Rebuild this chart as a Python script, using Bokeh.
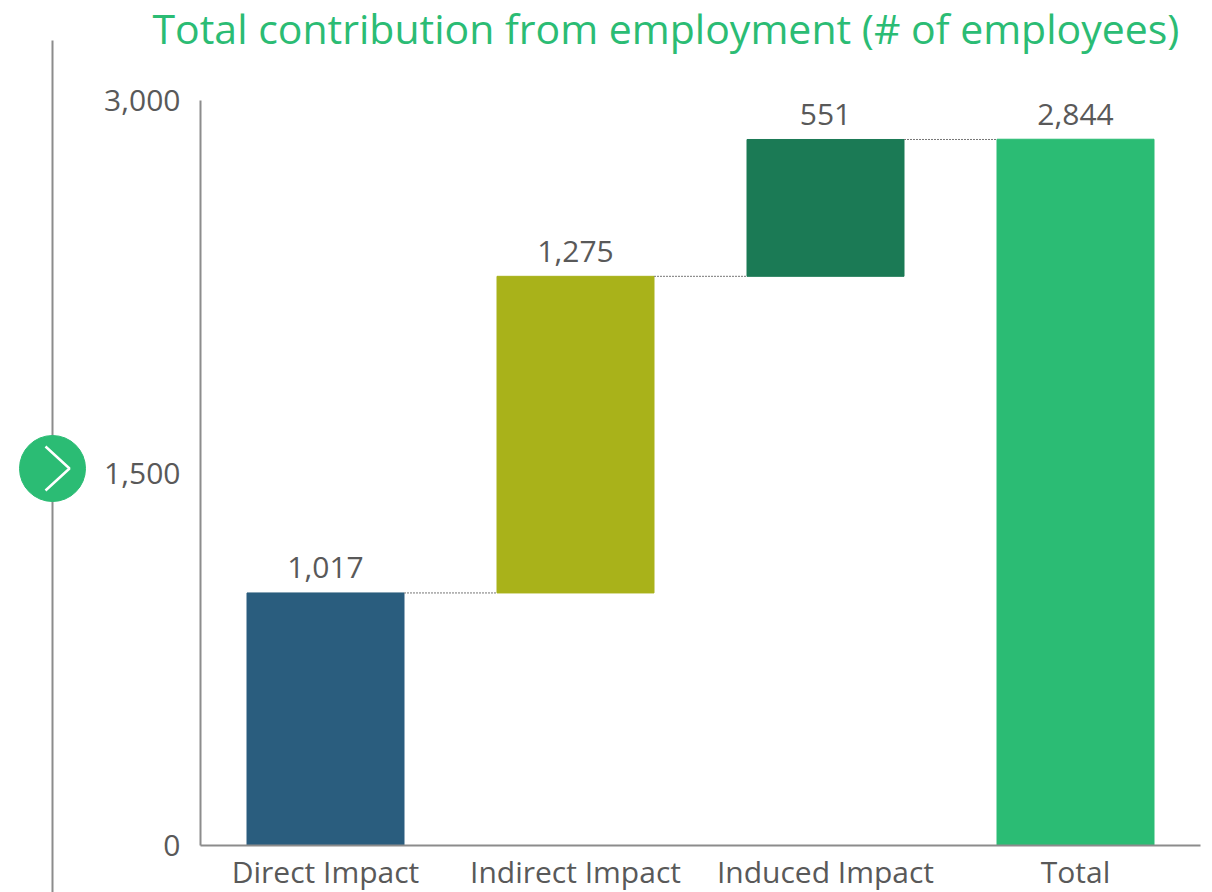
from bokeh.embed import file_html
from bokeh.resources import INLINE
from bokeh.plotting import figure
from bokeh.layouts import row, column
from bokeh.models import Range1d, FixedTicker, ColumnDataSource
from bokeh.core.properties import value

categories = ["Direct Impact", "Indirect Impact", "Induced Impact", "Total"]
bottoms = [0, 1017, 2292, 0]
tops = [1017, 2292, 2843, 2844]
labels = ["1,017", "1,275", "551", "2,844"]
colors = ["#2A5D7E", "#A9B21A", "#1B7A55", "#2BBC74"]
y_ticks = [0, 1500, 3000]
y_tick_labels = {0: "0", 1500: "1,500", 3000: "3,000"}
title_text = "Total contribution from employment (# of employees)"

FONT = "Open Sans"
GREEN = "#2BBC74"
GREY = "#8C8C8C"
TXT = "#595959"
BW = 0.628
LEFT_W = 100
TOP_H = 70
TOTAL_W = 1204
FULL_H = 892


def deco(width, height, x0, x1, y0, y1):
    f = figure(width=width, height=height, output_backend="svg", toolbar_location=None,
               x_range=Range1d(x0, x1), y_range=Range1d(y1, y0), min_border=0,
               outline_line_color=None, x_axis_location=None, y_axis_location=None)
    f.grid.visible = False
    f.frame_align = False
    return f


side = deco(LEFT_W, FULL_H, 0, LEFT_W, 0, FULL_H)
side.segment(x0=[52], x1=[52], y0=[40], y1=[FULL_H], line_color=GREY, line_width=2)
side.scatter(x=[52], y=[468], size=66, marker="circle", color=GREEN)
side.line(x=[45, 69, 45], y=[446, 468, 490], line_color="white", line_width=2.5)

head = deco(TOTAL_W - LEFT_W, TOP_H, LEFT_W, TOTAL_W, 0, TOP_H)
head.text(x=[152], y=[27], text=[title_text], text_align="left", text_baseline="alphabetic",
          text_font=value(FONT), text_font_size="41px", text_color=GREEN)

p = figure(width=TOTAL_W - LEFT_W, height=FULL_H - TOP_H, frame_height=745, frame_width=1000,
           output_backend="svg", toolbar_location=None,
           x_range=Range1d(0, 4), y_range=Range1d(0, 3000),
           min_border_left=100, min_border_right=4, min_border_top=100 - TOP_H, min_border_bottom=47,
           outline_line_color=None)
p.frame_align = False
p.grid.visible = False
xs = [i + 0.5 for i in range(len(categories))]
src = ColumnDataSource(dict(x=xs, b=bottoms, t=tops, c=colors, l=labels))
p.vbar(x="x", bottom="b", top="t", width=BW, color="c", source=src)
p.text(x="x", y="t", text="l", source=src, text_align="center", text_baseline="alphabetic",
       text_font=value(FONT), text_font_size="30px", text_color=TXT, y_offset=-25)
p.segment(x0=[x + BW / 2 for x in xs[:-1]], x1=[x - BW / 2 for x in xs[1:]],
          y0=tops[:-1], y1=tops[:-1], line_color="#777777", line_width=1, line_dash="2 1")

p.xaxis.ticker = FixedTicker(ticks=xs)
p.xaxis.major_label_overrides = {x: c for x, c in zip(xs, categories)}
p.yaxis.ticker = FixedTicker(ticks=y_ticks)
p.yaxis.major_label_overrides = y_tick_labels
for ax in (p.xaxis, p.yaxis):
    ax.axis_line_color = GREY
    ax.axis_line_width = 2
    ax.major_tick_line_color = None
    ax.minor_tick_line_color = None
    ax.major_tick_in = 0
    ax.major_tick_out = 0
    ax.major_label_text_font = FONT
    ax.major_label_text_font_size = "30px"
    ax.major_label_text_color = TXT
p.yaxis.major_label_standoff = 20
p.xaxis.major_label_standoff = 5

layout = row(side, column(head, p, spacing=0), spacing=0)
open("out.html", "w").write(file_html(layout, INLINE))
